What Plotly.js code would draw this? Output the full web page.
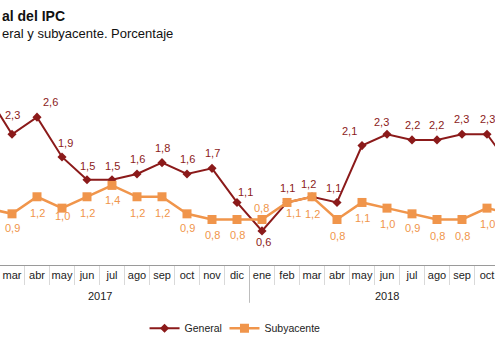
<!DOCTYPE html>
<html>
<head>
<meta charset="utf-8">
<script src="https://cdn.plot.ly/plotly-3.0.1.min.js"></script>
<style>html,body{margin:0;padding:0;background:#fff;}#chart{width:495px;height:357px;}</style>
</head>
<body>
<div id="chart"></div>
<script>
// ---- data ----
const months = ['ene','feb','mar','abr','may','jun','jul','ago','sep','oct','nov','dic',
                'ene','feb','mar','abr','may','jun','jul','ago','sep','oct','nov'];
const years = ['2017','2017','2017','2017','2017','2017','2017','2017','2017','2017','2017','2017',
               '2018','2018','2018','2018','2018','2018','2018','2018','2018','2018','2018'];
const general = [3.0,3.0,2.3,2.6,1.9,1.5,1.5,1.6,1.8,1.6,1.7,1.1,
                 0.6,1.1,1.2,1.1,2.1,2.3,2.2,2.2,2.3,2.3,1.7];
const subyacente = [1.0,1.0,0.9,1.2,1.0,1.2,1.4,1.2,1.2,0.9,0.8,0.8,
                    0.8,1.1,1.2,0.8,1.1,1.0,0.9,0.8,0.8,1.0,0.9];
const seriesNames = ['General','Subyacente'];

// ---- styles (label offsets in px: [dx, dy], dy positive = down) ----
const genOff = [[0,-15],[0,-15],[0,-19],[13,-15],[3,-14],[0,-14],[0,-14],[0,-15],[0,-15],[0,-15],[0,-15],[8,-10],
                [1,11],[0,-14],[-4,-13],[-4,-14],[-13,-15],[-6,-12],[0,-15],[-1,-15],[-1,-15],[0,-15],[0,-15]];
const subOff = [[0,15],[0,15],[0,14],[0,16],[0,8],[0,16],[0,15],[0,16],[0,16],[0,14],[0,15],[0,15],
                [-1,-12],[6,11],[0,17],[0,16],[0,16],[0,16],[0,14],[0,16],[0,16],[0,16],[0,16]];
const cGen = '#8b1a1a';
const cSub = '#f0954b';
const FONT = 'Liberation Sans, Arial, sans-serif';

const idx = months.map((m, i) => i);
const fmt = v => v.toFixed(1).replace('.', ',');

const traces = [
  {x: idx, y: general, name: seriesNames[0], type: 'scatter', mode: 'lines+markers', legend: 'legend',
   line: {color: cGen, width: 2}, marker: {symbol: 'diamond', size: 7, color: cGen}},
  {x: idx, y: subyacente, name: seriesNames[1], type: 'scatter', mode: 'lines+markers', legend: 'legend2',
   line: {color: cSub, width: 2.5}, marker: {symbol: 'square', size: 9, color: cSub}}
];

const annotations = [];
general.forEach((v, i) => annotations.push({x: idx[i], y: v, xref: 'x', yref: 'y', text: fmt(v),
  showarrow: false, xshift: genOff[i][0], yshift: -genOff[i][1], font: {family: FONT, size: 11, color: cGen}}));
subyacente.forEach((v, i) => annotations.push({x: idx[i], y: v, xref: 'x', yref: 'y', text: fmt(v),
  showarrow: false, xshift: subOff[i][0], yshift: -subOff[i][1], font: {family: FONT, size: 11, color: cSub}}));

// year group labels, centred over each year's categories
const yearList = [...new Set(years)];
const yearBounds = yearList.map(y => {
  const ii = idx.filter(i => years[i] === y);
  return {y, first: Math.min(...ii), last: Math.max(...ii)};
});
yearBounds.forEach(b => annotations.push({x: (b.first + b.last) / 2, xref: 'x', y: -0.158, yref: 'paper',
  text: b.y, showarrow: false, yanchor: 'middle', font: {family: FONT, size: 11, color: '#222'}}));

// titles (cropped view)
annotations.push({x: 0, xref: 'paper', xanchor: 'left', y: 1.253, yref: 'paper', yanchor: 'middle',
  text: '<b>al del IPC</b>', showarrow: false, font: {family: FONT, size: 14, color: '#111'}});
annotations.push({x: 0, xref: 'paper', xanchor: 'left', y: 1.165, yref: 'paper', yanchor: 'middle',
  text: 'eral y subyacente. Porcentaje', showarrow: false, font: {family: FONT, size: 13, color: '#111'}});

const shapes = [];
for (let k = 1; k < yearBounds.length; k++) {
  const xs = (yearBounds[k - 1].last + yearBounds[k].first) / 2;
  shapes.push({type: 'line', xref: 'x', yref: 'paper', x0: xs, x1: xs, y0: 0, y1: -0.19,
    line: {color: '#bdbdbd', width: 1}});
}

const legendBase = {orientation: 'h', xanchor: 'left', y: -0.245, yanchor: 'top',
  font: {family: FONT, size: 10.5, color: '#222'}, itemwidth: 30, bgcolor: 'rgba(0,0,0,0)'};

const layout = {
  width: 495, height: 357,
  margin: {l: 0, r: 0, t: 65.5, b: 91.5, pad: 0},
  paper_bgcolor: '#fff', plot_bgcolor: '#fff',
  font: {family: FONT, size: 11, color: '#222'},
  showlegend: true,
  legend: Object.assign({}, legendBase, {x: 0.292}),
  legend2: Object.assign({}, legendBase, {x: 0.4535}),
  xaxis: {
    type: 'linear', range: [1.52, 21.32],
    tickmode: 'array', tickvals: idx, ticktext: months, ticks: '',
    showgrid: false, zeroline: false, showline: true, linecolor: '#9a9a9a', linewidth: 1,
    tickfont: {family: FONT, size: 11, color: '#222'},
    minor: {tickmode: 'array', tickvals: idx.map(i => i + 0.5), ticks: 'outside', ticklen: 19,
            tickcolor: '#d9d9d9', tickwidth: 1, showgrid: false}
  },
  yaxis: {range: [0, 3.5], visible: false, fixedrange: true},
  annotations, shapes
};

Plotly.newPlot('chart', traces, layout, {displayModeBar: false, staticPlot: true});
</script>
</body>
</html>
